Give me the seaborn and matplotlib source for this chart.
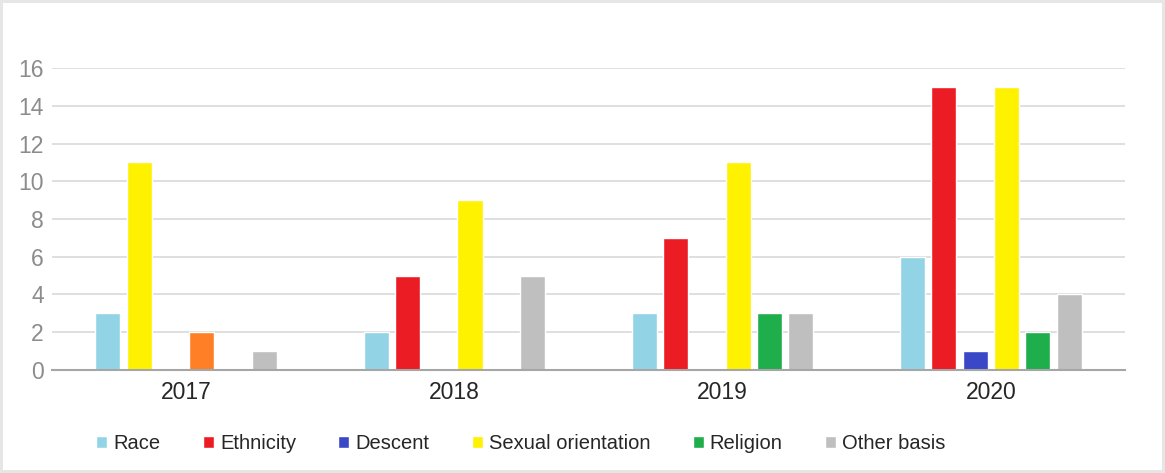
import matplotlib
matplotlib.use("Agg")
import matplotlib.pyplot as plt
import seaborn as sns
import pandas as pd

years = ["2017", "2018", "2019", "2020"]
categories = ["Race", "Ethnicity", "Descent", "Sexual orientation", "Religion", "Other basis"]
# values per category, in the slot order as drawn in the picture
race = [3, 2, 3, 6]
ethnicity = [11, 5, 7, 15]
descent = [0, 0, 0, 1]
sexual_orientation = [2, 9, 11, 15]
religion = [0, 0, 3, 2]
other_basis = [1, 5, 3, 4]

colors = ["#92d4e6", "#ec1c24", "#3a47c6", "#fff200", "#1fae4c", "#bfbfbf"]
# 2017 bars drawn with swapped/odd colours in the reference
override_2017 = {"Ethnicity": "#fff200", "Sexual orientation": "#ff7f27"}

series = [race, ethnicity, descent, sexual_orientation, religion, other_basis]
rows = []
for cat, vals in zip(categories, series):
    for y, v in zip(years, vals):
        rows.append({"year": y, "category": cat, "value": v})
df = pd.DataFrame(rows)

sns.set_style("white")
plt.rcParams["font.family"] = ["Liberation Sans", "DejaVu Sans"]

fig = plt.figure(figsize=(11.65, 4.73), dpi=100)
fig.patch.set_edgecolor("#e6e6e6")
fig.patch.set_linewidth(4)
ax = fig.add_axes([0.0446, 0.2178, 0.9211, 0.6384])

sns.barplot(data=df, x="year", y="value", hue="category", order=years,
            hue_order=categories, palette=colors, width=0.7, gap=0.2,
            saturation=1, ax=ax, legend=True)

# recolour the 2017 bars as drawn
for ci, cat in enumerate(categories):
    if cat in override_2017:
        patch = ax.containers[ci].patches[0]
        patch.set_facecolor(override_2017[cat])

ax.set_ylim(0, 16)
ax.set_yticks(range(0, 17, 2))
ax.set_xlim(-0.5, 3.5)
ax.grid(axis="y", color="#d9d9d9", linewidth=1.2)
ax.set_axisbelow(True)
for s in ["left", "right", "top"]:
    ax.spines[s].set_visible(False)
ax.spines["bottom"].set_color("#a6a6a6")
ax.spines["bottom"].set_linewidth(1.5)
ax.tick_params(axis="y", colors="#8c8c8c", labelsize=16.5, length=0, pad=6)
ax.tick_params(axis="x", colors="#262626", labelsize=16.5, length=0, pad=8)
ax.set_xlabel("")
ax.set_ylabel("")

handles, labels = ax.get_legend_handles_labels()
ax.legend(handles, labels, loc="center", bbox_to_anchor=(0.437, -0.245),
          ncol=6, frameon=False, fontsize=14.5, handlelength=0.55,
          handleheight=0.55, handletextpad=0.3, columnspacing=2.1)

fig.savefig("out.png", dpi=100, facecolor="white", edgecolor=fig.get_edgecolor())
